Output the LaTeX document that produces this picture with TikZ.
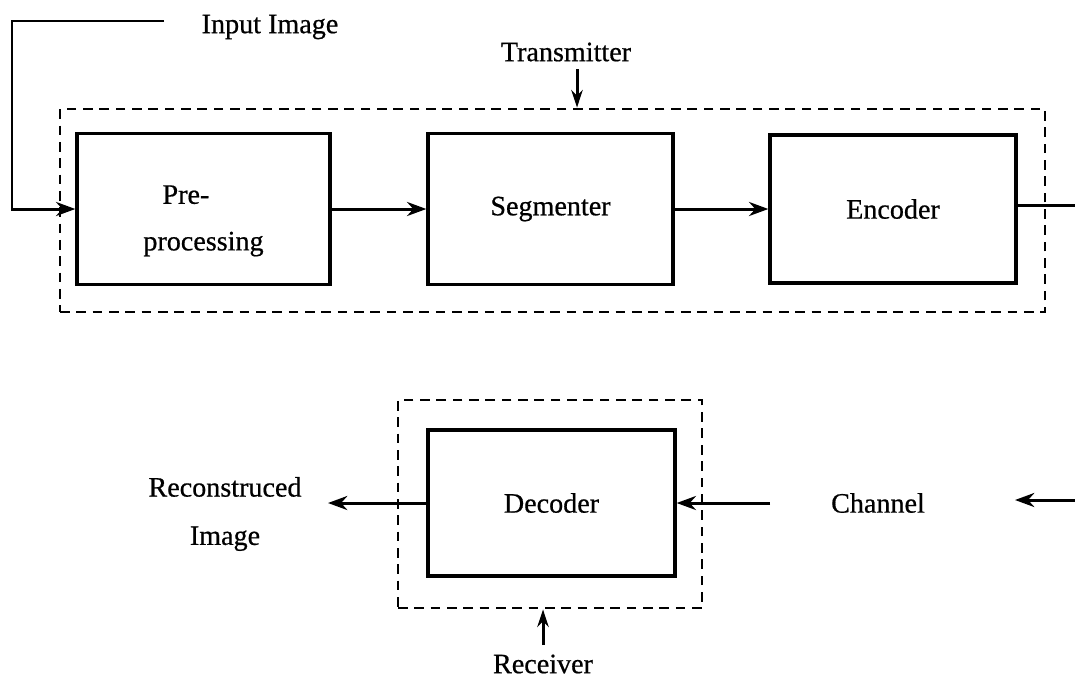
\documentclass[tikz,border=0pt]{standalone}
\usepackage{fontspec}
\setmainfont{Liberation Serif}[FakeBold=0.6]
\usetikzlibrary{arrows.meta}
\newlength\pxu
\setlength\pxu{0.02cm}
\tikzset{
  block/.style={draw, line width=1.9pt, rectangle, inner sep=0pt, align=center},
  frame/.style={draw, line width=1.6pt, dash pattern=on 5.5pt off 3.8pt, rectangle, inner sep=0pt},
  link/.style={line width=1.7pt},
  arr/.style={link, -{Stealth[length=11pt,width=8pt]}},
  tag/.style={link, -{Stealth[length=10pt,width=6.5pt]}},
  lbl/.style={inner sep=0pt, align=center},
}
\begin{document}
\begin{tikzpicture}[x=0.02cm, y=-0.02cm, font=\fontsize{16}{19.5}\selectfont]
\useasboundingbox (0,0) rectangle (1075,677);

% transmitter: frame and its three stages
\node[frame, minimum width=985\pxu, minimum height=203\pxu] (tx) at (552.5,210.5) {};
\node[block, minimum width=253\pxu, minimum height=151\pxu] (pre) at (203.5,209) {\rule{0pt}{24pt}Pre-\hspace*{20pt}\\[7pt]processing};
\node[block, minimum width=245\pxu, minimum height=151\pxu] (seg) at (550.5,209) {Segmenter};
\node[block, minimum width=246\pxu, minimum height=148\pxu] (enc) at (893,209) {Encoder};

% receiver: frame and decoder
\node[frame, minimum width=304\pxu, minimum height=208\pxu] (rx) at (550,504) {};
\node[block, minimum width=247\pxu, minimum height=146\pxu] (dec) at (551.5,503) {Decoder};

% labels
\node[lbl] (inlbl) at (270,27) {Input Image};
\node[lbl] (txlbl) at (566,52) {Transmitter};
\node[lbl] (rxlbl) at (543,664) {Receiver};
\node[lbl] (chlbl) at (878,503) {Channel};
\node[lbl] (reclbl) at (225,514) {Reconstruced\\[8pt]Image};

% connector end points
\coordinate (inS) at (164,21);
\coordinate (inC) at (12,21);
\coordinate (txA) at (577,69);
\coordinate (rxA) at (543,645);
\coordinate (encOut) at (1075,205);
\coordinate (chIn) at (1075,500);
\coordinate (chTip) at (1015,500);
\coordinate (chOut) at (770,503);
\coordinate (recTip) at (328,503);

% transmitter chain
\draw[arr] (inS) -- (inC) |- (pre.west);
\draw[arr] (pre.east) -- (seg.west);
\draw[arr] (seg.east) -- (enc.west);
\draw[link] (enc.east |- encOut) -- (encOut);
\draw[tag] (txA) -- (txA |- tx.north);

% receiver chain
\draw[arr] (chIn) -- (chTip);
\draw[arr] (chOut) -- (dec.east);
\draw[arr] (dec.west) -- (recTip);
\draw[tag] (rxA) -- (rxA |- rx.south);
\end{tikzpicture}
\end{document}
